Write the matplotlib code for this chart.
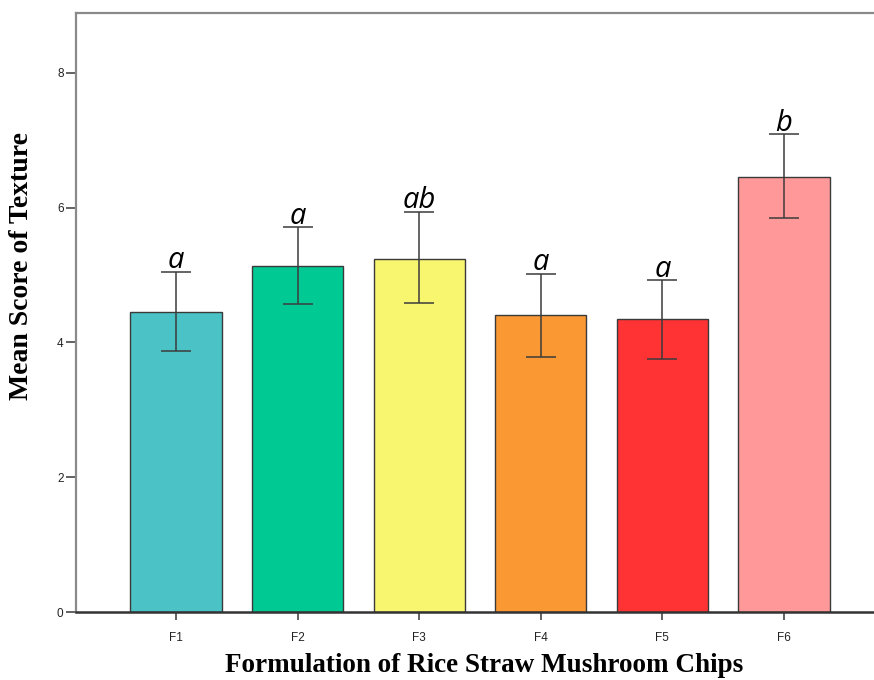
import matplotlib.pyplot as plt
import numpy as np

# data
formulations = ["F1", "F2", "F3", "F4", "F5", "F6"]
mean_score = [4.45, 5.14, 5.24, 4.40, 4.35, 6.46]
err_low = [0.57, 0.57, 0.66, 0.62, 0.59, 0.61]
err_high = [0.60, 0.57, 0.70, 0.62, 0.57, 0.63]
letters = ["a", "a", "ab", "a", "a", "b"]
bar_colours = ["#4BC2C5", "#00C994", "#F8F56E", "#FA9833", "#FF3334", "#FF9898"]
y_ticks = [0, 2, 4, 6, 8]

fig = plt.figure(figsize=(8.74, 6.8), dpi=100)
ax = fig.add_axes([76 / 874, 67.7 / 680, 808 / 874, 599 / 680])

x = np.arange(len(formulations))
ax.bar(x, mean_score, width=0.75, color=bar_colours, edgecolor="#3a3a3a",
       linewidth=1.0, zorder=2)
ax.errorbar(x, mean_score, yerr=[err_low, err_high], fmt="none",
            ecolor="#3c3c3c", elinewidth=1.3, capsize=11, capthick=1.3,
            alpha=0.85, zorder=3)

# significance letters above the error bars
for xi, m, e, lab in zip(x, mean_score, err_high, letters):
    ax.annotate(lab, (xi, m + e), xytext=(0, 2.5), textcoords="offset points",
                ha="center", va="baseline", fontsize=21, style="italic",
                family="Open Sans", color="black", zorder=4)

ax.set_xlim(-0.822, 5.822)
ax.set_ylim(0, 8.88)
ax.set_xticks(x)
ax.set_xticklabels(formulations, fontsize=8.5, family="Liberation Sans",
                   color="#222222")
ax.set_yticks(y_ticks)
ax.set_yticklabels([str(t) for t in y_ticks], fontsize=8.5,
                   family="Liberation Sans", color="#222222")
ax.tick_params(axis="y", direction="out", length=7, width=1.3,
               color="#555555", pad=2)
ax.tick_params(axis="x", direction="out", length=6, width=1.3,
               color="#555555", pad=8)

for side in ["left", "top"]:
    ax.spines[side].set_color("#8a8a8a")
    ax.spines[side].set_linewidth(1.6)
ax.spines["bottom"].set_color("#333333")
ax.spines["bottom"].set_linewidth(1.8)
ax.spines["right"].set_visible(False)

ax.set_ylabel("Mean Score of Texture", family="Liberation Serif",
              fontweight="bold", fontsize=20)
ax.yaxis.set_label_coords(-42 / 808, 346 / 599)
ax.set_xlabel("Formulation of Rice Straw Mushroom Chips",
              family="Liberation Serif", fontweight="bold", fontsize=19.5)
ax.xaxis.set_label_coords(408 / 808, -41 / 599)

fig.savefig("out.png", dpi=100)
